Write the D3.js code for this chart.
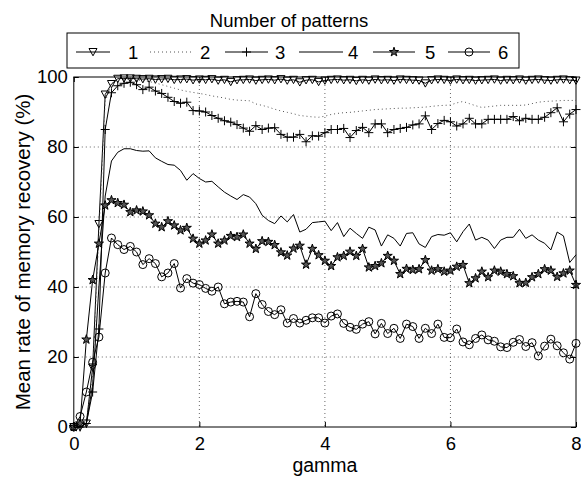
<!DOCTYPE html>
<html><head><meta charset="utf-8">
<script src="https://cdn.jsdelivr.net/npm/d3@7"></script>
<style>
html,body{margin:0;padding:0;background:#fff;}
svg{display:block;font-family:"Liberation Sans",Arial,sans-serif;}
</style></head>
<body>
<svg id="chart" width="581" height="477"></svg>
<script>
// ---- data ----
const gamma = d3.range(81).map(i => +(i * 0.1).toFixed(1));
const seriesNames = ["1", "2", "3", "4", "5", "6"];
const xTicks = [0, 2, 4, 6, 8];
const yTicks = [0, 20, 40, 60, 80, 100];

const s1 = [0,0,1,17,58,95,98,99.5,99.6,99.6,
  99.5,99.4,99.5,99.3,99.4,99.5,99.2,99.3,99.4,99.1,
  99.3,99.2,99.4,99.0,99.2,98.6,99.1,99.2,99.3,99.0,
  99.2,99.3,99.1,99.4,99.0,99.2,98.5,99.1,99.2,98.6,
  99.0,99.2,99.3,99.1,99.2,98.9,99.2,99.0,99.3,99.1,
  99.2,99.0,99.3,99.2,99.1,99.0,98.2,99.1,99.3,99.2,
  99.0,99.3,99.1,99.2,99.0,99.1,99.2,99.3,99.0,99.2,
  99.1,99.3,99.0,99.2,99.3,99.1,99.0,99.2,99.3,99.1,99.0];
const s2 = [0,0,1,15,55,93,98,99.4,99.5,99.4,
  99.2,99.0,98.7,98.3,97.8,97.3,96.8,96.3,95.9,95.6,
  95.3,95.0,94.6,94.3,94.0,93.6,93.4,93.3,93.2,92.3,
  91.9,91.4,90.8,90.3,89.9,89.5,89.0,88.8,88.6,88.5,
  88.8,89.3,89.6,89.8,89.9,90.1,90.3,90.5,90.7,90.8,
  90.9,91.0,91.1,91.1,91.2,91.3,91.4,91.6,91.8,91.9,
  92.0,92.6,93.0,92.4,91.8,91.3,91.5,91.7,91.9,91.9,
  91.9,91.9,92.0,92.4,92.8,93.0,93.1,93.2,93.3,93.3,93.3];
const s3 = [0,0,1,10,28,85,95.5,97.5,98.2,98.5,
  97.8,96.4,97.1,96.0,95.3,94.2,93.0,92.5,92.8,90.4,
  90.3,90.0,89.0,88.2,87.5,87.1,86.4,85.4,84.5,86.1,
  85.0,85.4,85.5,83.6,82.8,82.8,83.6,81.5,83.2,83.1,
  84.1,85.0,85.0,85.3,82.7,84.7,85.6,84.1,86.6,86.6,
  84.1,85.0,85.3,85.6,86.3,86.6,88.9,85.0,86.7,87.6,
  87.2,86.0,86.6,88.2,86.6,86.6,87.9,87.9,87.9,87.9,
  88.7,87.5,88.2,87.9,87.9,88.5,89.8,91.2,87.2,89.4,90.7];
const s4 = [0,0,1,12,40,66,76,78.5,79.5,79.5,
  79.0,78.8,78.9,76.9,75.9,75.0,74.8,73.3,70.5,72.4,
  71.0,70.0,70.2,68.6,67.1,66.0,65.0,66.4,65.7,63.8,
  60.5,59.0,58.1,60.3,58.6,60.7,55.7,56.5,58.4,58.6,
  58.8,56.1,58.4,54.4,56.8,55.3,53.9,57.1,56.3,51.7,
  54.9,53.9,51.7,55.3,55.5,52.3,51.3,54.4,55.0,54.8,
  55.5,52.9,55.8,58.0,53.4,54.2,53.4,51.0,53.4,54.2,
  54.2,56.5,53.9,54.9,53.4,52.5,50.6,55.7,54.6,47.0,49.2];
const s5 = [0,1,25,42,52.4,63.3,64.8,64.0,63.5,61.4,
  61.9,61.6,60.5,58.1,57.1,58.8,57.6,56.2,56.9,53.8,
  52.4,53.3,55.0,52.4,53.3,54.6,54.3,55.0,52.4,50.9,
  53.1,52.9,52.0,49.9,49.0,51.0,51.8,46.4,50.9,49.1,
  47.5,46.0,48.5,48.9,50.1,48.9,50.9,45.6,46.0,46.8,
  48.9,47.5,43.7,45.2,44.9,45.1,47.7,44.7,45.1,44.4,
  44.7,45.8,46.3,41.1,42.5,44.4,42.8,44.7,44.4,43.7,
  43.1,41.1,41.2,42.8,43.7,45.1,44.7,42.9,43.9,44.7,40.6];
const s6 = [0,3,10,18.5,25.7,44,54,52.1,50.7,51.6,
  50.0,46.4,48.1,46.7,42.9,44.0,46.7,39.7,42.4,41.1,
  40.7,39.6,38.8,40.0,35.2,35.7,35.9,35.7,31.5,38.1,
  35.0,33.0,32.1,33.5,29.7,31.0,29.7,30.5,31.2,31.2,
  29.7,31.7,32.3,29.6,28.5,27.9,29.4,30.1,26.6,29.6,
  26.7,28.2,25.3,29.4,28.7,25.3,28.2,26.7,29.4,25.6,
  25.5,28.0,24.3,23.5,25.3,26.3,24.9,24.5,22.9,22.7,
  24.2,25.0,23.0,24.1,20.3,23.1,25.1,23.2,21.2,19.4,23.9];
const seriesValues = [s1, s2, s3, s4, s5, s6];
const seriesMarkers = ["tri", null, "plus", null, "star", "circle"];
const seriesDash = [null, "1,3", null, null, null, null];

// ---- layout ----
const svg = d3.select("#chart");
const L = 73.8, R = 576, T = 77, B = 427;
const x = d3.scaleLinear().domain([0, 8]).range([L, R]);
const y = d3.scaleLinear().domain([0, 100]).range([B, T]);
const FS = 18.5;
const FF = "Liberation Sans, Arial, sans-serif";

// grid
const grid = svg.append("g");
xTicks.filter(t => t > 0 && t < 8).forEach(t => {
  grid.append("line").attr("x1", x(t)).attr("x2", x(t)).attr("y1", T).attr("y2", B)
    .attr("stroke", "#666").attr("stroke-width", 1).attr("stroke-dasharray", "1,3");
});
yTicks.filter(t => t > 0 && t < 100).forEach(t => {
  grid.append("line").attr("x1", L).attr("x2", R).attr("y1", y(t)).attr("y2", y(t))
    .attr("stroke", "#666").attr("stroke-width", 1).attr("stroke-dasharray", "1,3");
});

// marker drawing
function drawMarker(g, type, cx, cy) {
  if (type === "tri") {
    g.append("path").attr("d", `M${cx-4},${cy-3.5}L${cx+4},${cy-3.5}L${cx},${cy+3.8}Z`)
      .attr("fill", "none").attr("stroke", "#000").attr("stroke-width", 1);
  } else if (type === "plus") {
    g.append("path").attr("d", `M${cx-4.5},${cy}H${cx+4.5}M${cx},${cy-4.5}V${cy+4.5}`)
      .attr("fill", "none").attr("stroke", "#000").attr("stroke-width", 1);
  } else if (type === "circle") {
    g.append("circle").attr("cx", cx).attr("cy", cy).attr("r", 4)
      .attr("fill", "none").attr("stroke", "#000").attr("stroke-width", 1);
  } else if (type === "star") {
    g.append("path").attr("d", d3.symbol(d3.symbolStar, 26)())
      .attr("transform", `translate(${cx},${cy})`)
      .attr("fill", "#555").attr("stroke", "#000").attr("stroke-width", 1);
  }
}

const line = d3.line().x((d, i) => x(gamma[i])).y(d => y(d));
const plot = svg.append("g");
seriesValues.forEach((vals, si) => {
  const g = plot.append("g");
  g.append("path").datum(vals).attr("d", line)
    .attr("fill", "none").attr("stroke", seriesDash[si] ? "#555" : "#000")
    .attr("stroke-width", 1)
    .attr("stroke-dasharray", seriesDash[si]);
  if (seriesMarkers[si]) {
    vals.forEach((v, i) => drawMarker(g, seriesMarkers[si], x(gamma[i]), y(v)));
  }
});

// axes
const axB = d3.axisBottom(x).tickValues(xTicks).tickSize(-5).tickPadding(10).tickFormat(d3.format("d"));
const axL = d3.axisLeft(y).tickValues(yTicks).tickSize(-5).tickPadding(6).tickFormat(d3.format("d"));
const axT = d3.axisTop(x).tickValues(xTicks).tickSize(-5).tickFormat("");
const axR = d3.axisRight(y).tickValues(yTicks).tickSize(-5).tickFormat("");
function styleAxis(g) {
  g.attr("font-family", FF);
  g.select(".domain").remove();
  g.selectAll("line").attr("stroke", "#000");
  g.selectAll("text").attr("font-size", FS).attr("fill", "#000").attr("font-family", FF);
}
svg.append("g").attr("transform", `translate(0,${B})`).call(axB).call(styleAxis);
svg.append("g").attr("transform", `translate(${L},0)`).call(axL).call(styleAxis);
svg.append("g").attr("transform", `translate(0,${T})`).call(axT).call(styleAxis);
svg.append("g").attr("transform", `translate(${R},0)`).call(axR).call(styleAxis);
svg.append("rect").attr("x", L).attr("y", T).attr("width", R - L).attr("height", B - T)
  .attr("fill", "none").attr("stroke", "#000").attr("stroke-width", 1);

// axis labels
svg.append("text").attr("x", (L + R) / 2).attr("y", 472).attr("text-anchor", "middle")
  .attr("font-family", FF).attr("font-size", 19.5).text("gamma");
svg.append("text").attr("transform", `translate(30,${(T + B) / 2}) rotate(-90)`)
  .attr("text-anchor", "middle").attr("font-family", FF).attr("font-size", 20.5)
  .text("Mean rate of memory recovery (%)");

// legend
svg.append("text").attr("x", 289).attr("y", 27).attr("text-anchor", "middle")
  .attr("font-family", FF).attr("font-size", FS).text("Number of patterns");
svg.append("rect").attr("x", 67).attr("y", 33).attr("width", 452).attr("height", 35)
  .attr("fill", "#fff").attr("stroke", "#000").attr("stroke-width", 1);
const legX = [[76, 110, 128], [150, 193, 200], [225, 268, 275], [299, 343, 348], [373, 415, 425], [448, 490, 498]];
const legY = 52;
seriesNames.forEach((name, si) => {
  const [a, b, tx] = legX[si];
  const g = svg.append("g");
  g.append("line").attr("x1", a).attr("x2", b).attr("y1", legY).attr("y2", legY)
    .attr("stroke", seriesDash[si] ? "#555" : "#000").attr("stroke-width", 1)
    .attr("stroke-dasharray", seriesDash[si]);
  if (seriesMarkers[si]) drawMarker(g, seriesMarkers[si], (a + b) / 2, legY);
  g.append("text").attr("x", tx).attr("y", 58.5).attr("font-family", FF)
    .attr("font-size", FS).text(name);
});
</script>
</body></html>
